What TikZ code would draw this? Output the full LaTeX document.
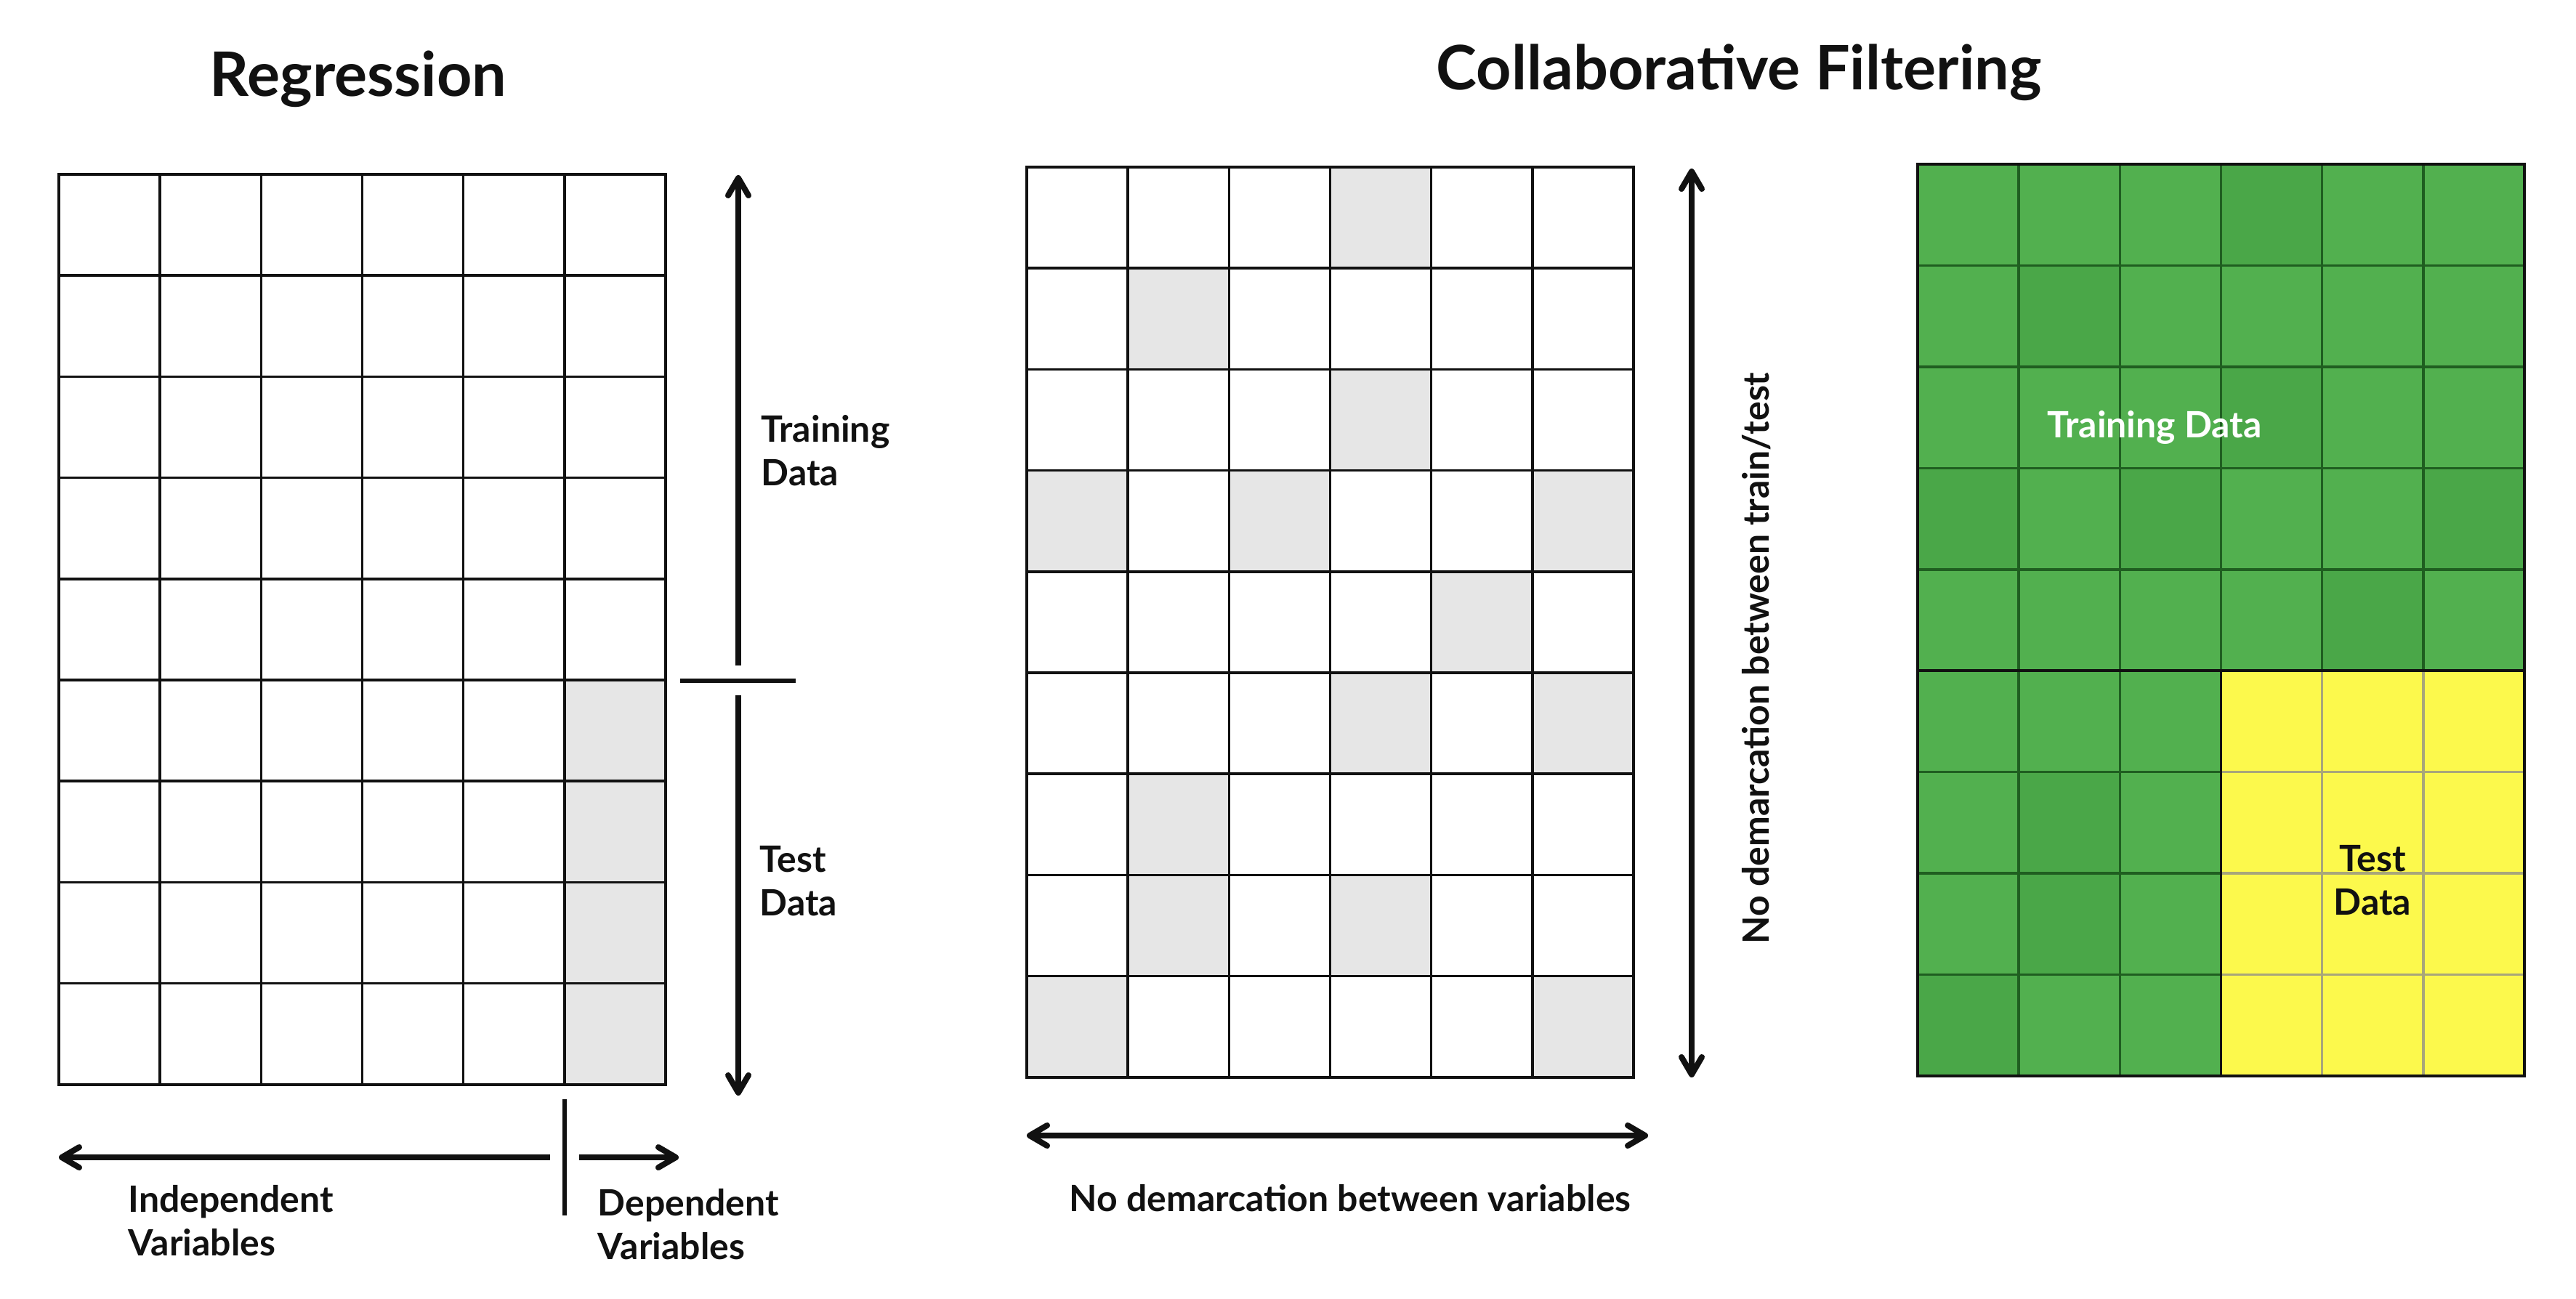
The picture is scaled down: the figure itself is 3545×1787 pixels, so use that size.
\documentclass[tikz,border=0pt]{standalone}
\usepackage{fontspec}
\setmainfont{Lato}
\usetikzlibrary{arrows.meta}
\definecolor{ink}{HTML}{111111}
\definecolor{cellgray}{HTML}{E6E6E6}
\definecolor{lightgreen}{HTML}{52B04F}
\definecolor{darkgreen}{HTML}{4AA748}
\definecolor{greenline}{HTML}{1F5E20}
\definecolor{testyellow}{HTML}{FCF94C}
\definecolor{yellowline}{HTML}{A8A67A}
\newcommand{\twolines}[3]{\begin{tabular}[t]{@{}#1@{}}#2\\#3\end{tabular}}
\begin{document}
\begin{tikzpicture}[x=0.01cm,y=-0.01cm,
  gridline/.style={draw=ink,line width=0.035cm},
  frame/.style={draw=ink,line width=0.04cm,line join=miter},
  arr/.style={draw=ink,line width=0.08cm,
    -{Straight Barb[length=0.24cm,width=0.28cm,line cap=round,line join=round]}},
  dblarr/.style={draw=ink,line width=0.08cm,
    {Straight Barb[length=0.24cm,width=0.28cm,line cap=round,line join=round]}-{Straight Barb[length=0.24cm,width=0.28cm,line cap=round,line join=round]}},
  rule/.style={draw=ink,line width=0.06cm},
  heading/.style={font=\fontsize{24}{29}\selectfont\bfseries,text=ink,inner sep=0pt},
  label/.style={font=\fontsize{14.2}{17.07}\selectfont\bfseries,text=ink,inner sep=0pt},
]
\useasboundingbox[fill=white] (0,0) rectangle (3545,1787);

% ---------- Regression grid ----------
\def\cw{139.17}
\def\chl{139.2}
\foreach \r/\c in {6/6,7/6,8/6,9/6}
  \fill[cellgray] ({81+(\c-1)*\cw},{240+(\r-1)*\chl}) rectangle ++(\cw,\chl);
\foreach \i in {1,...,5}
  \draw[gridline] ({81+\i*\cw},240) -- ({81+\i*\cw},1493);
\foreach \j in {1,...,8}
  \draw[gridline] (81,{240+\j*\chl}) -- (916,{240+\j*\chl});
\draw[frame] (81,240) rectangle (916,1493);

% train / test split arrows
\coordinate (lvTop) at (1016,241);
\coordinate (lvUpTail) at (1016,916);
\coordinate (lvDownTail) at (1016,957);
\coordinate (lvBot) at (1016,1508);
\coordinate (splitL) at (936,937);
\coordinate (splitR) at (1095,937);
\draw[arr] (lvUpTail) -- (lvTop);
\draw[arr] (lvDownTail) -- (lvBot);
\draw[rule] (splitL) -- (splitR);

% variable split arrows
\coordinate (hLeftTip) at (81,1593);
\coordinate (hLeftTail) at (757,1593);
\coordinate (hRightTail) at (797,1593);
\coordinate (hRightTip) at (934,1593);
\coordinate (divTop) at (777,1513);
\coordinate (divBot) at (777,1673);
\draw[arr] (hLeftTail) -- (hLeftTip);
\draw[arr] (hRightTail) -- (hRightTip);
\draw[rule] (divTop) -- (divBot);

\node[heading,anchor=base] (regTitle) at (493,132) {Regression};
\node[label,anchor=base west] (regTrain) at (1047,608) {\twolines{l}{Training}{Data}};
\node[label,anchor=base west] (regTest) at (1045,1200) {\twolines{l}{Test}{Data}};
\node[label,anchor=base west] (regIndep) at (176,1668) {\twolines{l}{Independent}{Variables}};
\node[label,anchor=base west] (regDep) at (822,1673) {\twolines{l}{Dependent}{Variables}};

% ---------- Collaborative filtering: sparse grid ----------
\foreach \r/\c in {1/4,2/2,3/4,4/1,4/3,4/6,5/5,6/4,6/6,7/2,8/2,8/4,9/1,9/6}
  \fill[cellgray] ({1413+(\c-1)*\cw},{230+(\r-1)*\chl}) rectangle ++(\cw,\chl);
\foreach \i in {1,...,5}
  \draw[gridline] ({1413+\i*\cw},230) -- ({1413+\i*\cw},1483);
\foreach \j in {1,...,8}
  \draw[gridline] (1413,{230+\j*\chl}) -- (2248,{230+\j*\chl});
\draw[frame] (1413,230) rectangle (2248,1483);

\coordinate (cvTop) at (2328,232);
\coordinate (cvBot) at (2328,1483);
\coordinate (chLeft) at (1413,1563);
\coordinate (chRight) at (2268,1563);
\draw[dblarr] (cvBot) -- (cvTop);
\draw[dblarr] (chLeft) -- (chRight);

\node[heading,anchor=base] (cfTitle) at (2393,123) {Collaborative Filtering};
\node[label,anchor=base] (cfVars) at (1858,1667) {No demarcation between variables};
\node[label,anchor=base,rotate=90] (cfSplit) at (2434,906) {No demarcation between train/test};

% ---------- Collaborative filtering: train / test blocks ----------
\def\rh{139.44}
\fill[lightgreen] (2639,226) rectangle (3474,1481);
\foreach \r/\c in {1/4,2/2,3/4,4/1,4/3,4/6,5/5,7/2,8/2,9/1}
  \fill[darkgreen] ({2639+(\c-1)*\cw},{226+(\r-1)*\rh}) rectangle ++(\cw,\rh);
\fill[testyellow] ({2639+3*\cw},{226+5*\rh}) rectangle (3474,1481);
\foreach \i in {1,...,5}
  \draw[draw=greenline,line width=0.035cm] ({2639+\i*\cw},226) -- ({2639+\i*\cw},1481);
\foreach \j in {1,...,8}
  \draw[draw=greenline,line width=0.035cm] (2639,{226+\j*\rh}) -- (3474,{226+\j*\rh});
\foreach \i in {4,5}
  \draw[draw=yellowline,line width=0.035cm] ({2639+\i*\cw},{226+5*\rh}) -- ({2639+\i*\cw},1481);
\foreach \j in {6,7,8}
  \draw[draw=yellowline,line width=0.035cm] ({2639+3*\cw},{226+\j*\rh}) -- (3474,{226+\j*\rh});
\draw[gridline] (2639,{226+5*\rh}) -- (3474,{226+5*\rh});
\draw[gridline] ({2639+3*\cw},{226+5*\rh}) -- ({2639+3*\cw},1481);
\draw[frame] (2639,226) rectangle (3474,1481);

\node[label,anchor=base,text=white] (cfTrain) at (2965,602) {Training Data};
\node[label,anchor=base] (cfTest) at (3265,1199) {\twolines{c}{Test}{Data}};
\end{tikzpicture}
\end{document}
